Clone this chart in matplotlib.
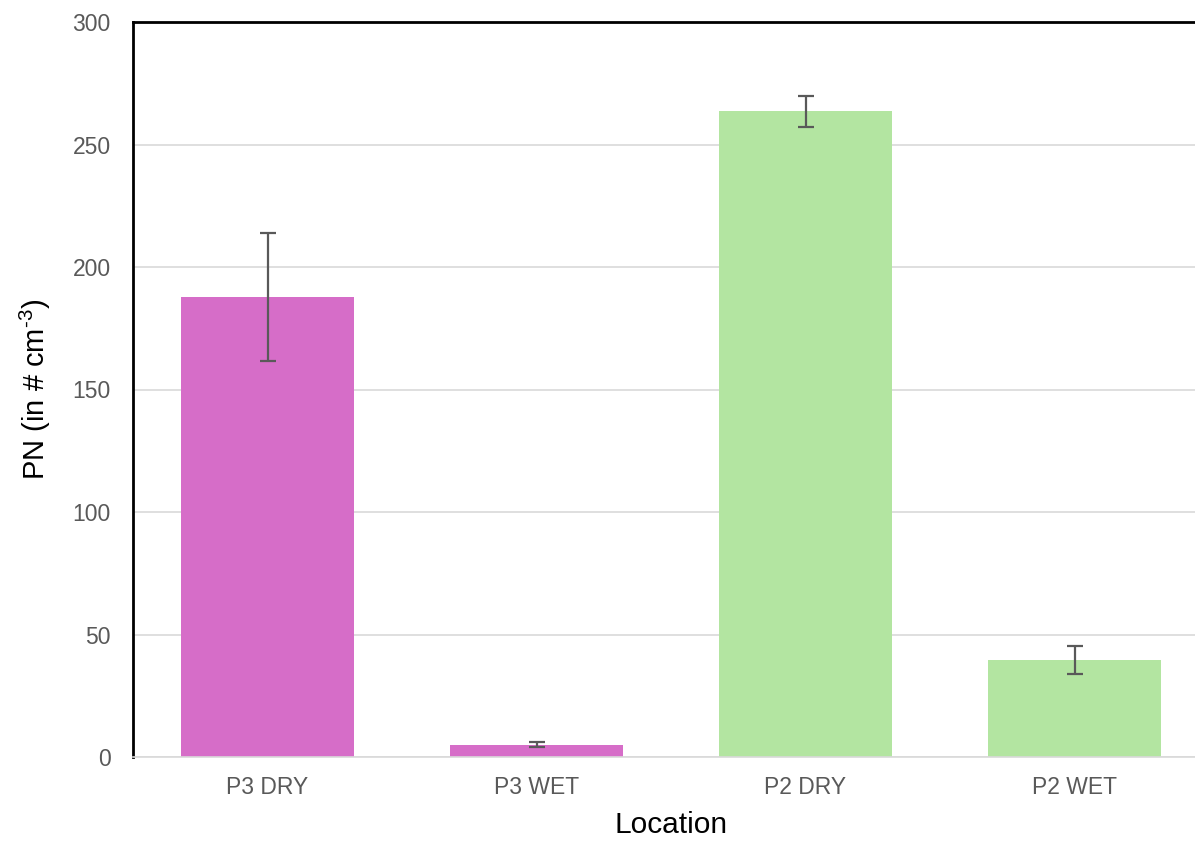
import matplotlib
matplotlib.use("Agg")
import matplotlib.pyplot as plt
import numpy as np

# dados
locais = ["P3 DRY", "P3 WET", "P2 DRY", "P2 WET"]
pn = [187.8, 5.0, 263.5, 39.5]
erro = [26.0, 1.0, 6.2, 5.8]
cores = ["#D66DC8", "#D66DC8", "#B3E5A1", "#B3E5A1"]

plt.rcParams['font.family'] = ['Liberation Sans', 'DejaVu Sans']
plt.rcParams['mathtext.fontset'] = 'custom'
plt.rcParams['mathtext.rm'] = 'Liberation Sans'
plt.rcParams['mathtext.it'] = 'Liberation Sans'

fig = plt.figure(figsize=(11.95, 8.43), dpi=100)
ax = fig.add_axes([133/1195, 86/843, 1076/1195, 735/843])

x = np.arange(len(locais))
ax.bar(x, pn, width=0.64, color=cores, zorder=2)
ax.errorbar(x, pn, yerr=erro, fmt='none', ecolor='#595959', elinewidth=1.6,
            capsize=6, capthick=1.6, zorder=3)

ax.set_xlim(-0.5, 3.5)
ax.set_ylim(0, 300)
ax.set_yticks(np.arange(0, 301, 50))
ax.set_xticks(x)
ax.set_xticklabels(locais)
ax.yaxis.grid(True, color='#D9D9D9', linewidth=1.2, zorder=0)
ax.set_axisbelow(True)
ax.tick_params(length=0, labelsize=16.5, labelcolor='#595959')
ax.tick_params(axis='x', pad=14)
ax.tick_params(axis='y', pad=16)

for s in ['left', 'top']:
    ax.spines[s].set_color('black')
    ax.spines[s].set_linewidth(2)
ax.spines['right'].set_visible(False)
ax.spines['bottom'].set_color('#D9D9D9')
ax.spines['bottom'].set_linewidth(1.2)

ax.set_xlabel('Location', fontsize=21.5, labelpad=8)
ax.set_ylabel('PN (in # cm$^{\u2010 3}$)', fontsize=21, labelpad=14)

fig.savefig('out.png', dpi=100)
